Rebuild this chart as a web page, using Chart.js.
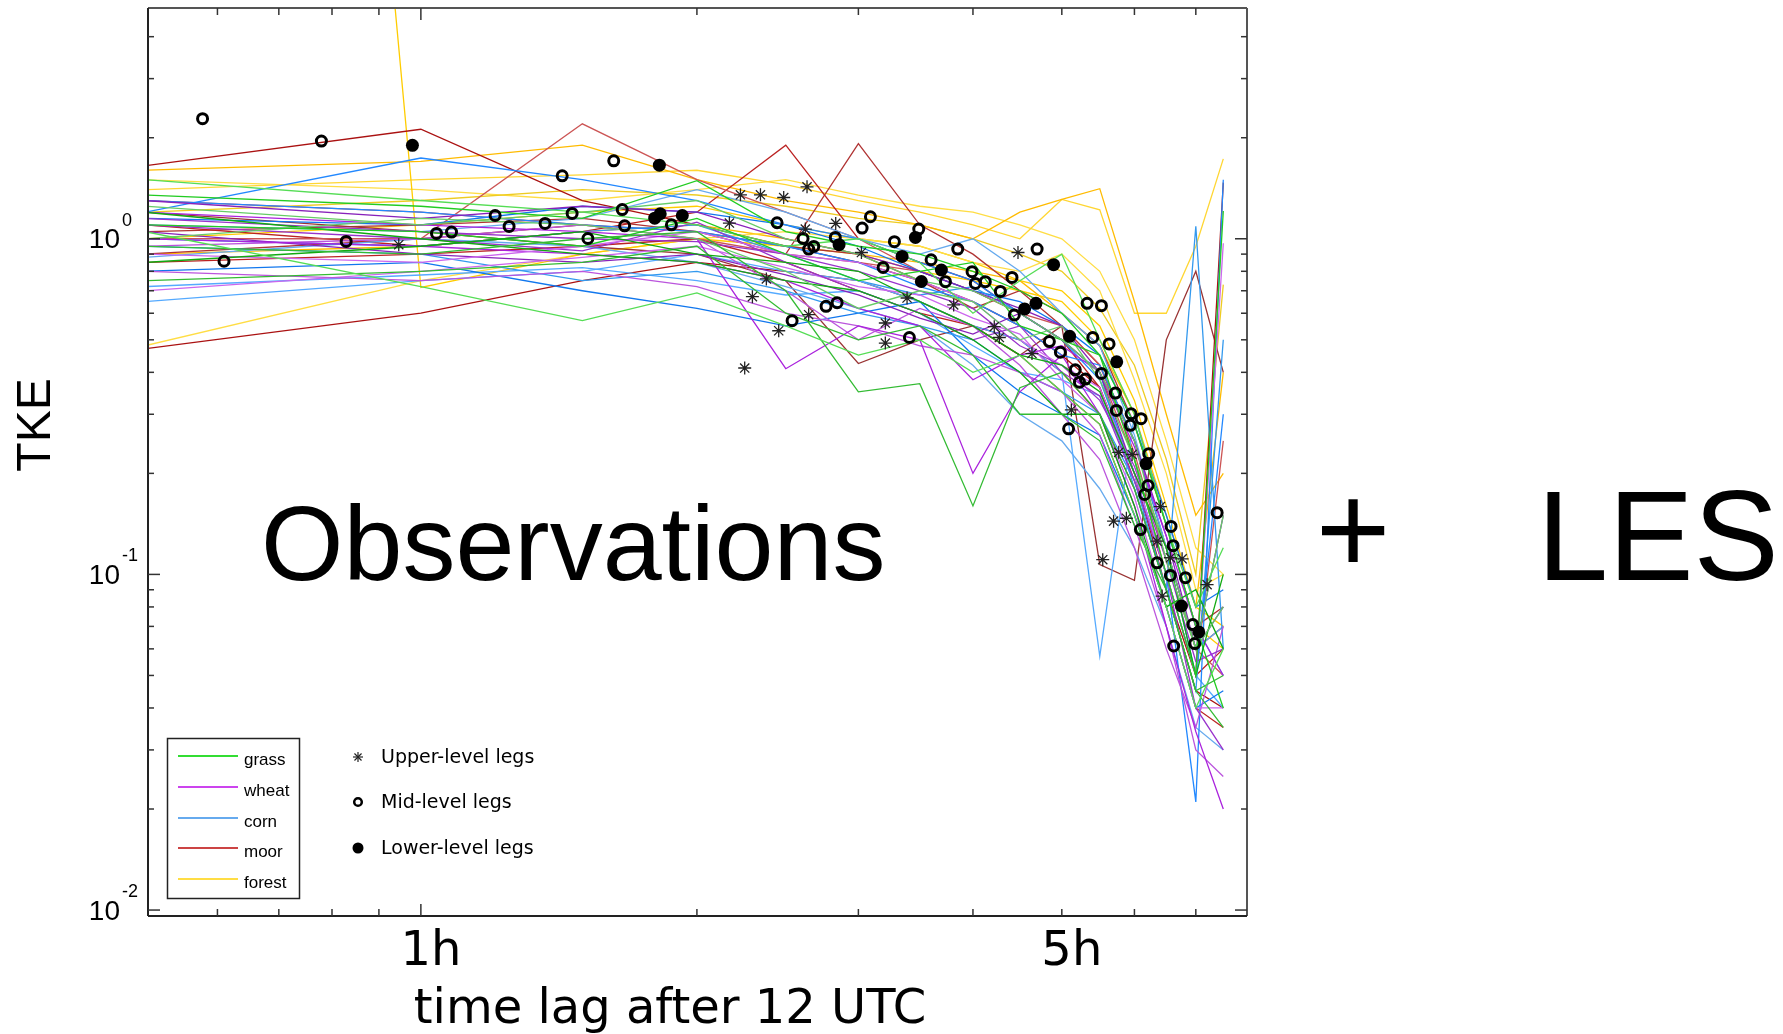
<!DOCTYPE html>
<html><head><meta charset="utf-8">
<script src="https://cdn.jsdelivr.net/npm/chart.js@4.4.1/dist/chart.umd.min.js"></script>
<style>html,body{margin:0;padding:0;background:#fff;overflow:hidden}#wrap{position:relative;width:1783px;height:1034px}</style>
</head><body><div id="wrap"><canvas id="c" width="1783" height="1034"></canvas></div>
<script>
// ---------- data ----------
const times = [0.5,1,1.5,2,2.5,3,3.5,4,4.5,5,5.5,6,6.5,7,7.5];

const grassRuns = [
 [1.35,1.25,1.15,1.49,1.05,0.95,0.9,0.8,0.7,0.6,0.45,0.22,0.1,0.05,1.21],
 [1.05,0.72,0.57,0.69,0.55,0.45,0.5,0.4,0.45,0.35,0.28,0.15,0.08,0.04,0.06],
 [0.95,0.9,1.0,1.05,0.7,0.35,0.37,0.16,0.36,0.4,0.3,0.18,0.09,0.045,0.05],
 [1.25,1.1,1.2,1.3,1.0,0.9,0.75,0.7,0.6,0.5,0.4,0.25,0.11,0.06,0.08],
 [0.85,0.95,1.05,0.9,0.85,0.8,0.65,0.55,0.45,0.42,0.35,0.2,0.12,0.05,0.1],
 [1.1,1.05,0.95,1.15,0.9,0.75,0.8,0.85,0.55,0.5,0.45,0.28,0.14,0.07,0.04],
 [1.5,1.3,1.2,1.1,0.95,1.0,0.85,0.6,0.75,0.9,0.5,0.3,0.14,0.08,0.12],
 [0.75,0.8,0.85,0.95,0.6,0.5,0.55,0.45,0.3,0.3,0.25,0.14,0.09,0.045,0.035],
 [1.0,1.15,1.1,1.0,0.8,0.62,0.7,0.65,0.5,0.55,0.38,0.22,0.12,0.06,0.15],
 [1.2,1.0,0.9,0.85,0.75,0.7,0.6,0.5,0.4,0.3,0.3,0.16,0.08,0.09,0.06]
];
const wheatRuns = [
 [1.2,1.1,1.05,1.0,0.41,0.55,0.5,0.2,0.35,0.45,0.3,0.16,0.07,0.034,0.02],
 [0.9,0.85,0.95,1.05,0.9,0.85,0.75,0.65,0.5,0.42,0.36,0.2,0.1,0.05,0.97],
 [1.1,1.0,0.92,1.12,0.85,0.7,0.6,0.5,0.55,0.4,0.34,0.19,0.1,0.04,0.03],
 [0.8,0.75,0.8,0.72,0.6,0.55,0.48,0.45,0.4,0.35,0.26,0.14,0.07,0.03,0.025],
 [1.3,1.15,1.25,1.2,1.0,0.9,0.8,0.7,0.62,0.55,0.4,0.2,0.12,0.06,0.08],
 [1.0,0.95,0.9,0.85,0.75,0.62,0.55,0.38,0.45,0.48,0.4,0.24,0.13,0.07,0.05],
 [0.7,0.8,0.88,0.95,0.82,0.72,0.68,0.58,0.52,0.38,0.3,0.17,0.08,0.04,0.04],
 [1.15,1.05,1.0,0.98,0.9,0.8,0.7,0.62,0.48,0.42,0.33,0.21,0.11,0.055,0.06],
 [0.95,1.0,1.1,1.0,0.7,0.5,0.62,0.55,0.42,0.3,0.22,0.12,0.06,0.035,0.07],
 [1.05,0.9,0.85,0.9,0.78,0.68,0.58,0.52,0.6,0.5,0.4,0.25,0.13,0.06,0.15]
];
const cornRuns = [
 [1.2,1.74,1.5,1.3,1.1,1.0,0.85,0.75,0.6,0.5,0.38,0.2,0.1,0.021,1.5],
 [0.65,0.75,0.8,0.9,0.8,0.75,0.65,0.55,0.5,0.4,0.057,0.3,0.14,0.07,0.05],
 [0.95,0.9,0.75,0.8,0.7,0.6,0.55,0.5,0.4,0.35,0.3,0.19,0.09,1.09,0.06],
 [1.1,1.05,1.15,1.4,1.2,1.0,0.9,1.0,0.8,0.6,0.48,0.26,0.12,0.06,0.07],
 [0.8,0.85,0.7,0.62,0.55,0.6,0.65,0.45,0.35,0.3,0.26,0.15,0.08,0.04,0.045],
 [1.3,1.2,1.1,1.05,0.95,0.85,0.72,0.65,0.55,0.45,0.42,0.25,0.12,0.05,0.3],
 [0.72,0.78,0.82,0.75,0.68,0.7,0.6,0.48,0.4,0.38,0.34,0.2,0.1,0.05,0.04],
 [1.0,0.95,1.05,1.1,0.9,0.75,0.68,0.72,0.6,0.5,0.4,0.18,0.09,0.045,0.5],
 [0.88,1.0,0.95,0.85,0.72,0.62,0.55,0.42,0.3,0.25,0.18,0.12,0.07,0.035,0.03],
 [1.15,1.1,1.25,1.2,1.1,0.95,0.8,0.7,0.65,0.55,0.45,0.28,0.15,0.08,0.09]
];
const moorRuns = [
 [1.65,2.12,1.3,1.1,0.95,0.85,0.75,0.65,0.55,0.45,0.36,0.2,0.09,0.05,1.47],
 [1.0,1.0,2.2,1.5,1.2,1.0,0.8,0.7,0.6,0.55,0.42,0.23,0.11,0.06,0.05],
 [1.1,0.95,1.05,1.2,1.9,1.0,0.85,0.75,0.6,0.5,0.36,0.19,0.1,0.05,0.06],
 [0.9,1.0,1.1,1.05,0.9,1.92,1.1,0.9,0.7,0.55,0.42,0.25,0.12,0.06,0.07],
 [1.2,1.05,0.95,0.9,0.75,0.425,0.5,0.55,0.45,0.55,0.107,0.096,0.5,0.8,0.4],
 [0.47,0.6,0.75,0.85,0.8,0.75,0.65,0.55,0.5,0.4,0.3,0.18,0.09,0.045,0.04],
 [1.3,1.2,1.1,1.0,0.9,0.85,0.8,0.7,0.6,0.5,0.4,0.22,0.1,0.05,0.25],
 [0.85,0.9,0.95,1.0,0.85,0.7,0.6,0.55,0.45,0.35,0.28,0.15,0.08,0.04,0.035],
 [1.05,1.1,1.15,1.05,0.95,0.9,0.75,0.62,0.7,0.6,0.48,0.28,0.14,0.07,0.08]
];
const forestRuns = [
 [6e8,0.716,0.9,1.0,0.95,0.9,0.8,0.75,0.7,0.65,0.5,0.3,0.14,0.07,0.06],
 [0.48,0.75,0.9,1.0,1.05,1.0,0.95,0.85,0.8,0.9,0.7,0.38,0.2,0.09,0.1],
 [1.6,1.7,1.9,1.5,1.3,1.2,1.1,1.0,1.2,1.31,1.41,0.65,0.3,0.15,0.2],
 [1.4,1.5,1.55,1.6,1.45,1.3,1.2,1.1,1.0,1.31,1.22,0.6,0.6,0.95,1.73],
 [1.2,1.3,1.4,1.35,1.25,1.15,1.1,1.0,0.9,0.8,0.62,0.42,0.22,0.1,0.73],
 [1.0,1.1,1.2,1.25,1.1,1.0,0.95,0.85,0.75,0.7,0.55,0.33,0.16,0.08,0.07],
 [1.5,1.4,1.3,1.4,1.5,1.35,1.25,1.2,1.1,1.0,0.8,0.5,0.25,0.12,0.1],
 [0.9,0.95,1.05,1.1,1.0,0.9,0.85,0.8,0.75,0.6,0.48,0.3,0.15,0.08,0.4]
];

// observations (time in h, TKE)
const upperT = [0.946,2.170,2.231,2.346,2.487,2.637,2.626,2.834,2.381,2.299,2.456,2.648,2.255,3.023,3.210,3.210,3.390,3.811,4.479,4.220,4.274,4.639,5.121,5.768,5.965,6.404,5.694,5.880,6.351,6.567,6.763,5.541,7.201,6.432];
const upperV = [0.960,1.114,1.352,1.352,1.327,1.428,1.069,1.111,0.759,0.672,0.532,0.594,0.412,0.910,0.561,0.489,0.666,0.635,0.910,0.547,0.508,0.455,0.309,0.231,0.2276,0.1593,0.1441,0.147,0.1256,0.1121,0.1113,0.1106,0.0932,0.0862];
const midT = [0.578,0.779,0.610,0.829,1.040,1.080,1.205,1.248,1.366,1.426,1.462,1.521,1.623,1.658,1.668,1.876,2.446,2.611,2.648,2.682,2.831,3.028,3.092,3.284,3.192,2.540,2.766,2.844,3.491,3.601,3.733,3.850,3.991,4.024,4.126,4.285,4.412,4.699,4.438,3.410,4.846,4.982,5.328,5.523,5.404,5.630,5.172,5.305,5.226,5.523,5.720,5.734,5.086,5.950,5.939,6.101,6.219,6.209,6.156,6.090,6.578,6.612,6.351,6.567,6.820,7.385,6.946,6.981,6.622];
const midV = [2.28,1.954,0.857,0.982,1.037,1.047,1.173,1.088,1.111,1.540,1.190,1.002,1.707,1.222,1.093,1.100,1.116,1.002,0.932,0.949,1.009,1.076,1.163,0.980,0.821,0.570,0.629,0.645,1.069,0.866,0.745,0.932,0.798,0.736,0.745,0.697,0.767,0.932,0.593,0.508,0.494,0.459,0.642,0.632,0.508,0.486,0.407,0.382,0.374,0.397,0.347,0.308,0.2715,0.301,0.278,0.291,0.2287,0.184,0.173,0.136,0.139,0.1218,0.1083,0.0993,0.0978,0.1527,0.0709,0.0622,0.0612];
const lowerT = [0.979,1.820,1.799,1.824,1.928,2.858,3.462,3.348,3.695,3.514,4.898,4.554,4.686,5.099,5.739,6.178,6.752,7.052];
const lowerV = [1.898,1.657,1.152,1.187,1.173,0.960,1.009,0.886,0.807,0.746,0.837,0.618,0.642,0.512,0.430,0.2136,0.0805,0.0674];

// axes / labels
const xRange = [0.504, 7.96];
const yRange = [0.0096, 4.87];
const xMajorTicks = [1];
const xMinorTicks = [0.6,0.7,0.8,0.9,2,3,4,5,6,7];
const yMajorTicks = [0.01,0.1,1];
const yMinorTicks = [0.02,0.03,0.04,0.05,0.06,0.07,0.08,0.09,0.2,0.3,0.4,0.5,0.6,0.7,0.8,0.9,2,3,4];
const xLabelValues = [1,5];
const xLabelTexts = ['1h','5h'];
const yLabelValues = [1,0.1,0.01];
const yLabelExps = ['0','-1','-2'];
const surfaceNames = ['grass','wheat','corn','moor','forest'];
const markerNames = ['Upper-level legs','Mid-level legs','Lower-level legs'];

// ---------- styles ----------
const palettes = {
 grass:['#22cc22','#55dd55','#33bb33','#66cc66','#11aa11'],
 wheat:['#aa22dd','#cc66ee','#9933cc','#bb55dd','#8822bb'],
 corn:['#2288ff','#55aaff','#3399ee','#66aaee','#1177ee'],
 moor:['#aa1111','#cc5555','#bb2222','#b03333','#993333'],
 forest:['#ffcc00','#ffdd44','#ffbb00','#ffd633','#eecc22']
};
const legendColors = ['#33dd33','#cc44ee','#66aaee','#cc4444','#ffdd44'];

const datasets = [];
function addRuns(runs, pal){
  runs.forEach((r,i)=>{
    datasets.push({data: r.map((v,j)=>({x:times[j], y:v})), showLine:true, borderColor: pal[i%pal.length],
      borderWidth:1.3, pointRadius:0, fill:false, tension:0, order:2});
  });
}
addRuns(grassRuns, palettes.grass);
addRuns(wheatRuns, palettes.wheat);
addRuns(cornRuns, palettes.corn);
addRuns(moorRuns, palettes.moor);
addRuns(forestRuns, palettes.forest);
const zip=(a,b)=>a.slice(0,Math.min(a.length,b.length)).map((t,i)=>({x:t,y:b[i]}));
datasets.push({data: zip(upperT,upperV), showLine:false, pointStyle:'star', pointRadius:6.5, borderColor:'#222', borderWidth:1.3, backgroundColor:'#222', order:0});
datasets.push({data: zip(midT,midV), showLine:false, pointStyle:'circle', pointRadius:5, borderColor:'#000', borderWidth:3, backgroundColor:'rgba(0,0,0,0)', order:0});
datasets.push({data: zip(lowerT,lowerV), showLine:false, pointStyle:'circle', pointRadius:6.5, borderColor:'#000', borderWidth:0, backgroundColor:'#000', order:0});

function ln(ctx,x1,y1,x2,y2){ctx.beginPath();ctx.moveTo(x1,y1);ctx.lineTo(x2,y2);ctx.stroke();}

const deco = {
 id:'deco',
 afterDraw(chart){
  const ctx=chart.ctx, a=chart.chartArea, xs=chart.scales.x, ys=chart.scales.y;
  ctx.save();
  // frame
  ctx.lineWidth=2;
  ctx.strokeStyle='#555';
  ln(ctx,a.left,a.top,a.right,a.top); ln(ctx,a.right,a.top,a.right,a.bottom);
  ctx.strokeStyle='#222';
  ln(ctx,a.left,a.top,a.left,a.bottom); ln(ctx,a.left,a.bottom,a.right,a.bottom);
  // ticks
  ctx.lineWidth=1.5; ctx.strokeStyle='#333';
  const yt=(vals,len)=>vals.forEach(v=>{const y=ys.getPixelForValue(v); ln(ctx,a.left,y,a.left+len,y); ln(ctx,a.right-len,y,a.right,y);});
  const xt=(vals,len)=>vals.forEach(v=>{const x=xs.getPixelForValue(v); ln(ctx,x,a.bottom,x,a.bottom-len); ln(ctx,x,a.top,x,a.top+len);});
  yt(yMajorTicks,12); yt(yMinorTicks,6); xt(xMajorTicks,12); xt(xMinorTicks,7);
  // y tick labels 10^n
  ctx.fillStyle='#000';
  yLabelValues.forEach((v,i)=>{
    const y=ys.getPixelForValue(v);
    ctx.font='28px "Liberation Sans", Arial, sans-serif'; ctx.textAlign='right'; ctx.textBaseline='middle';
    ctx.fillText('10',120,y+2);
    ctx.font='18px "Liberation Sans", Arial, sans-serif'; ctx.textAlign='left';
    ctx.fillText(yLabelExps[i],122,y-18);
  });
  // x tick labels
  ctx.font='48px "DejaVu Sans", sans-serif'; ctx.textAlign='center'; ctx.textBaseline='alphabetic';
  xLabelValues.forEach((v,i)=>{ctx.fillText(xLabelTexts[i], xs.getPixelForValue(v)+10, 965);});
  // axis titles
  ctx.fillText('time lag after 12 UTC', 670, 1023);
  ctx.save(); ctx.translate(37,425); ctx.rotate(-Math.PI/2);
  ctx.font='48px "Liberation Sans", Arial, sans-serif'; ctx.textBaseline='middle'; ctx.fillText('TKE',0,0);
  ctx.restore();
  // big annotation text
  ctx.font='106px "Liberation Sans", Arial, sans-serif'; ctx.textAlign='left'; ctx.textBaseline='alphabetic';
  ctx.fillText('Observations', 261, 580);
  ctx.font='128px "Liberation Sans", Arial, sans-serif'; ctx.textAlign='center'; ctx.textBaseline='middle';
  ctx.fillText('+', 1353, 538);
  ctx.textAlign='left'; ctx.textBaseline='alphabetic';
  ctx.fillText('LES', 1537, 580);
  // surface legend box
  ctx.fillStyle='#fff'; ctx.fillRect(167,738,132,160);
  ctx.lineWidth=1.5; ctx.strokeStyle='#222'; ctx.strokeRect(167.5,738.5,132,160);
  const legY=[756,787,818,848,879];
  ctx.font='17px "Liberation Sans", Arial, sans-serif'; ctx.textBaseline='middle'; ctx.textAlign='left';
  surfaceNames.forEach((n,i)=>{
    ctx.strokeStyle=legendColors[i]; ctx.lineWidth=2; ln(ctx,178,legY[i],238,legY[i]);
    ctx.fillStyle='#000'; ctx.fillText(n,244,legY[i]+4);
  });
  // marker legend
  const mY=[757,802,848];
  ctx.font='19px "DejaVu Sans", sans-serif';
  markerNames.forEach((n,i)=>{ctx.fillStyle='#000'; ctx.fillText(n,381,mY[i]+1);});
  ctx.strokeStyle='#222'; ctx.lineWidth=1.2;
  const sx=358, sy=mY[0], r=5;
  ln(ctx,sx-r,sy,sx+r,sy); ln(ctx,sx,sy-r,sx,sy+r);
  const d=r*0.707; ln(ctx,sx-d,sy-d,sx+d,sy+d); ln(ctx,sx-d,sy+d,sx+d,sy-d);
  ctx.strokeStyle='#000'; ctx.lineWidth=2.5; ctx.beginPath(); ctx.arc(358,mY[1],3.8,0,Math.PI*2); ctx.stroke();
  ctx.fillStyle='#000'; ctx.beginPath(); ctx.arc(358,mY[2],5.5,0,Math.PI*2); ctx.fill();
  ctx.restore();
 }
};

new Chart(document.getElementById('c'), {
  type:'scatter',
  data:{datasets},
  options:{
    responsive:false, animation:false, events:[],
    layout:{padding:{left:148,top:7,right:536,bottom:118}},
    plugins:{legend:{display:false}, tooltip:{enabled:false}},
    scales:{
      x:{type:'logarithmic', min:xRange[0], max:xRange[1], display:false},
      y:{type:'logarithmic', min:yRange[0], max:yRange[1], display:false}
    }
  },
  plugins:[deco]
});
</script></body></html>
